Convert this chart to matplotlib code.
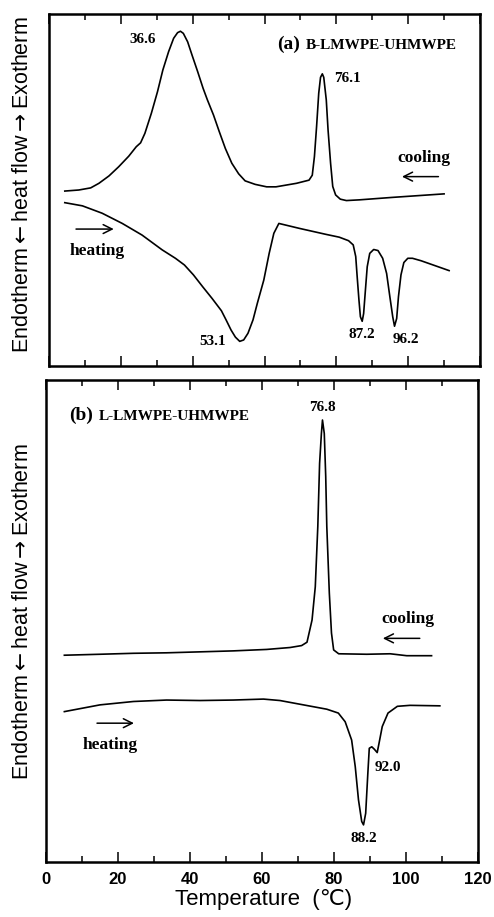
import numpy as np
import matplotlib.pyplot as plt
from matplotlib.ticker import MultipleLocator

# (a) B-LMWPE-UHMWPE, cooling scan
temp_a_cool = [4.4, 8.3, 11.6, 13.9, 16.7, 19.4, 22.2, 24.3, 25.5, 26.7, 28.5, 30.2,
               31.7, 33.3, 34.7, 35.8, 36.6, 37.4, 38.6, 39.8, 41.4, 42.9, 44.1, 45.8,
               47.4, 49.1, 50.9, 52.8, 54.6, 57.4, 60.6, 63.2, 68.9, 72.4, 73.3, 73.9,
               74.5, 75.1, 75.6, 76.1, 76.5, 77.2, 77.7, 78.4, 79.0, 79.8, 81.1, 82.8,
               86.4, 95.6, 110.0]
flow_a_cool = [49.7, 50.0, 50.6, 51.9, 54.0, 56.6, 59.6, 62.3, 63.4, 66.1, 71.8, 77.9,
               84.1, 89.3, 93.1, 94.7, 95.1, 94.5, 92.1, 88.4, 83.6, 78.9, 75.6, 71.3,
               66.6, 61.8, 57.6, 54.6, 52.6, 51.6, 50.9, 50.9, 51.9, 52.8, 54.2, 59.5,
               68.0, 77.5, 82.0, 83.0, 82.0, 75.6, 67.0, 57.6, 51.0, 48.6, 47.4, 47.0,
               47.2, 47.9, 48.9]

# (a) heating scan
temp_a_heat = [4.4, 9.3, 14.8, 20.4, 25.9, 31.5, 35.2, 37.7, 40.2, 42.8, 45.4, 48.0,
               49.3, 50.7, 51.9, 53.1, 54.2, 55.4, 56.8, 58.0, 59.8, 61.3, 62.6, 64.0,
               69.7, 77.1, 80.8, 83.4, 84.7, 85.4, 85.8, 86.3, 86.7, 87.2, 87.6, 88.1,
               88.6, 89.3, 90.4, 91.6, 92.9, 94.0, 94.9, 95.7, 96.2, 96.8, 97.3, 98.0,
               98.8, 99.9, 101.2, 103.6, 111.4]
flow_a_heat = [46.4, 45.5, 43.4, 40.5, 37.2, 33.0, 30.6, 28.7, 25.9, 22.5, 19.2, 15.7,
               13.1, 10.2, 8.2, 7.0, 7.4, 9.3, 13.1, 17.8, 24.4, 32.0, 37.7, 40.5,
               39.1, 37.4, 36.6, 35.6, 34.4, 31.1, 25.4, 18.7, 14.0, 12.7, 14.9, 21.6,
               28.2, 32.0, 33.1, 32.8, 30.6, 26.3, 19.7, 14.0, 11.3, 13.5, 19.7, 25.9,
               29.4, 30.6, 30.6, 29.9, 27.1]

# (b) L-LMWPE-UHMWPE, cooling scan
temp_b_cool = [5.1, 15.0, 24.3, 33.5, 42.8, 52.0, 61.3, 67.8, 71.0, 72.5, 73.9, 74.8,
               75.5, 76.0, 76.5, 76.8, 77.3, 77.7, 78.0, 78.7, 79.3, 79.9, 81.3, 89.1,
               95.6, 100.2, 107.1]
flow_b_cool = [42.9, 43.1, 43.3, 43.4, 43.6, 43.8, 44.1, 44.5, 44.9, 45.6, 50.2, 57.1,
               69.6, 82.7, 88.9, 91.7, 88.9, 80.0, 69.6, 55.8, 47.5, 44.0, 43.2, 43.1,
               43.2, 42.8, 42.8]

# (b) heating scan
temp_b_heat = [5.1, 15.0, 24.3, 33.5, 42.8, 52.0, 60.4, 65.0, 71.5, 78.0, 81.2, 83.1,
               84.9, 85.9, 86.8, 87.7, 88.2, 88.8, 89.4, 89.8, 90.5, 91.2, 92.0, 92.5,
               93.4, 95.0, 97.6, 101.1, 109.4]
flow_b_heat = [31.2, 32.6, 33.3, 33.6, 33.5, 33.6, 33.8, 33.5, 32.6, 31.7, 30.9, 29.1,
               25.3, 19.8, 12.9, 8.4, 7.7, 10.1, 18.4, 23.6, 23.9, 23.4, 22.7, 24.6,
               28.1, 30.9, 32.3, 32.5, 32.4]

# peak temperatures written next to the curves
peaks_a_cool = [36.6, 76.1]
peaks_a_heat = [53.1, 87.2, 96.2]
peaks_b_cool = [76.8]
peaks_b_heat = [88.2, 92.0]

x_ticks = [0, 20, 40, 60, 80, 100, 120]

serif = dict(family='Liberation Serif', weight='bold')
sans = ['Liberation Sans', 'DejaVu Sans', 'Noto Sans CJK SC']
plt.rcParams['mathtext.fontset'] = 'dejavusans'


def label_peak(ax, temps, flows, t_peak, dx, dy):
    y = np.interp(t_peak, temps, flows)
    ax.text(t_peak + dx, y + dy, f'{t_peak:.1f}', ha='center', va='center',
            fontsize=11, **serif)


def scan_arrow(ax, x0, x1, y):
    ax.annotate('', xy=(x1, y), xytext=(x0, y),
                arrowprops=dict(arrowstyle='->', lw=1.1, color='black',
                                mutation_scale=16))


def style_axes(ax):
    ax.set_xlim(0, 120)
    ax.set_ylim(0, 100)
    ax.set_xticks(x_ticks)
    ax.xaxis.set_minor_locator(MultipleLocator(10))
    ax.tick_params(axis='x', which='both', direction='in', top=True, bottom=True,
                   width=1.1, color='black')
    ax.tick_params(axis='x', which='major', length=7.5)
    ax.tick_params(axis='x', which='minor', length=4.5)
    ax.set_yticks([])
    for sp in ax.spines.values():
        sp.set_linewidth(1.8)


fig = plt.figure(figsize=(4.94, 9.17), dpi=100)
ax_a = fig.add_axes([49 / 494, 1 - 366 / 917, 431 / 494, 352 / 917])
ax_b = fig.add_axes([46 / 494, 1 - 862 / 917, 432 / 494, 482 / 917])
style_axes(ax_a)
style_axes(ax_b)

# panel (a)
ax_a.plot(temp_a_cool, flow_a_cool, color='black', lw=1.2)
ax_a.plot(temp_a_heat, flow_a_heat, color='black', lw=1.2)
ax_a.tick_params(labelbottom=False)
label_peak(ax_a, temp_a_cool, flow_a_cool, peaks_a_cool[0], -10.6, -2.4)
label_peak(ax_a, temp_a_cool, flow_a_cool, peaks_a_cool[1], 6.9, -1.2)
label_peak(ax_a, temp_a_heat, flow_a_heat, peaks_a_heat[0], -7.5, -0.1)
label_peak(ax_a, temp_a_heat, flow_a_heat, peaks_a_heat[1], -0.2, -3.7)
label_peak(ax_a, temp_a_heat, flow_a_heat, peaks_a_heat[2], 3.1, -3.8)
ax_a.text(63.5, 90.0, '(a)', fontsize=14, va='baseline', **serif)
ax_a.text(71.4, 90.0, 'B-LMWPE-UHMWPE', fontsize=11, va='baseline', **serif)
ax_a.text(104.3, 59.1, 'cooling', fontsize=12.5, ha='center', va='center', **serif)
ax_a.text(13.5, 32.7, 'heating', fontsize=12.5, ha='center', va='center', **serif)
scan_arrow(ax_a, 109.2, 97.5, 53.8)
scan_arrow(ax_a, 6.75, 18.8, 38.9)

# panel (b)
ax_b.plot(temp_b_cool, flow_b_cool, color='black', lw=1.2)
ax_b.plot(temp_b_heat, flow_b_heat, color='black', lw=1.2)
label_peak(ax_b, temp_b_cool, flow_b_cool, peaks_b_cool[0], 0.0, 2.5)
label_peak(ax_b, temp_b_heat, flow_b_heat, peaks_b_heat[0], 0.1, -2.9)
label_peak(ax_b, temp_b_heat, flow_b_heat, peaks_b_heat[1], 3.1, -3.0)
ax_b.text(6.4, 91.8, '(b)', fontsize=14, va='baseline', **serif)
ax_b.text(14.8, 91.8, 'L-LMWPE-UHMWPE', fontsize=11, va='baseline', **serif)
ax_b.text(100.6, 50.4, 'cooling', fontsize=12.5, ha='center', va='center', **serif)
ax_b.text(17.8, 24.3, 'heating', fontsize=12.5, ha='center', va='center', **serif)
scan_arrow(ax_b, 104.6, 92.8, 46.4)
scan_arrow(ax_b, 13.4, 25.2, 28.8)

ax_b.set_xticklabels([str(t) for t in x_ticks], fontsize=12, fontweight='bold',
                     family=sans)
ax_b.tick_params(axis='x', which='major', pad=7)

ylab = r'Endotherm$\leftarrow$heat flow$\rightarrow$Exotherm'
fig.text(23 / 494, 1 - 185 / 917, ylab, rotation=90, ha='center', va='center',
         fontsize=15.5, family=sans)
fig.text(23 / 494, 1 - 612 / 917, ylab, rotation=90, ha='center', va='center',
         fontsize=15.5, family=sans)
fig.text(264 / 494, 1 - 900 / 917, 'Temperature  (\u2103)', ha='center', va='center',
         fontsize=16, family=sans)

fig.savefig('out.png', dpi=100)
